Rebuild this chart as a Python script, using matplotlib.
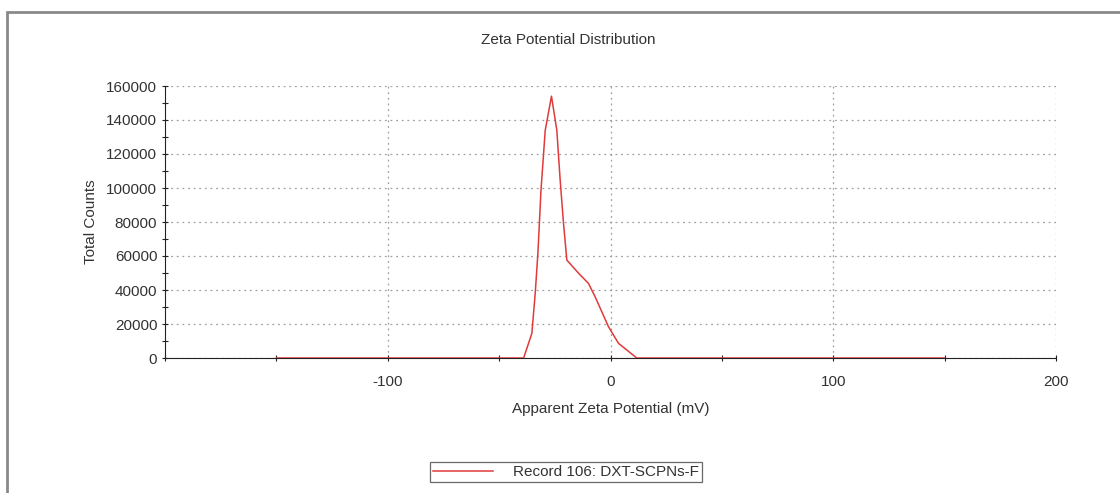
import matplotlib.pyplot as plt
from matplotlib.patches import Rectangle
from matplotlib.ticker import MultipleLocator

plt.rcParams['font.family'] = ['Liberation Sans', 'DejaVu Sans']

# Zeta potential distribution (mV vs total counts)
zeta_mv = [-150, -39, -35.3, -33.8, -32.6, -31.2, -29.3, -26.5, -24.1, -22.6,
           -21.1, -19.6, -14.3, -9.9, -6.9, -0.9, 3.6, 11.8, 150]
counts = [0, 0, 14500, 38000, 61500, 98800, 134000, 154000, 134000, 104700,
          79200, 57600, 49800, 43900, 36000, 18400, 8600, 0, 0]
record_label = 'Record 106: DXT-SCPNs-F'

fs = 11
txt = '#333333'

fig = plt.figure(figsize=(11.2, 4.93), dpi=100)
fig.patch.set_facecolor('white')

# outer frame around the report panel
fig.patches.append(Rectangle((7 / 1120, -0.05), 1.2, 1 - 12 / 493 + 0.05,
                             transform=fig.transFigure, fill=False,
                             edgecolor='#8a8a8a', linewidth=2))

ax = fig.add_axes([165 / 1120, 1 - 358 / 493, (1056 - 165) / 1120, (358 - 86) / 493])

ax.plot(zeta_mv, counts, color='#e03a3a', linewidth=1.1, label=record_label, zorder=3)

ax.set_xlim(-200, 200)
ax.set_ylim(0, 160000)
ax.xaxis.set_major_locator(MultipleLocator(100))
ax.xaxis.set_minor_locator(MultipleLocator(50))
ax.yaxis.set_major_locator(MultipleLocator(20000))
ax.yaxis.set_minor_locator(MultipleLocator(10000))
ax.set_xticks([-100, 0, 100, 200])
ax.set_xticklabels(['-100', '0', '100', '200'])

for side in ['top', 'right']:
    ax.spines[side].set_visible(False)
ax.spines['left'].set_color('#222222')
ax.spines['bottom'].set_color('#222222')

ax.tick_params(axis='both', which='major', direction='inout', length=5, width=0.8,
               colors='#222222', labelcolor=txt, labelsize=fs)
ax.tick_params(axis='both', which='minor', direction='inout', length=4, width=0.8,
               colors='#222222')
ax.tick_params(axis='x', which='major', pad=10)
ax.tick_params(axis='y', which='major', pad=3)

ax.grid(True, which='major', color='#a0a0a0', linestyle=(0, (1.5, 3)), linewidth=0.9)
ax.set_axisbelow(True)

ax.set_xlabel('Apparent Zeta Potential (mV)', fontsize=fs, color=txt, labelpad=9)
ax.set_ylabel('Total Counts', fontsize=fs, color=txt, labelpad=6)

fig.text(568 / 1120, 1 - 40 / 493, 'Zeta Potential Distribution', ha='center', va='center',
         fontsize=fs, color=txt)

leg = fig.legend(loc='center', bbox_to_anchor=(566 / 1120, 1 - 472 / 493),
                 frameon=True, fancybox=False, fontsize=fs, handlelength=3.9,
                 borderpad=0.2, handletextpad=1.3, borderaxespad=0)
leg.get_frame().set_edgecolor('#444444')
leg.get_frame().set_linewidth(0.9)
for t in leg.get_texts():
    t.set_color(txt)

fig.savefig('out.png', dpi=100)
